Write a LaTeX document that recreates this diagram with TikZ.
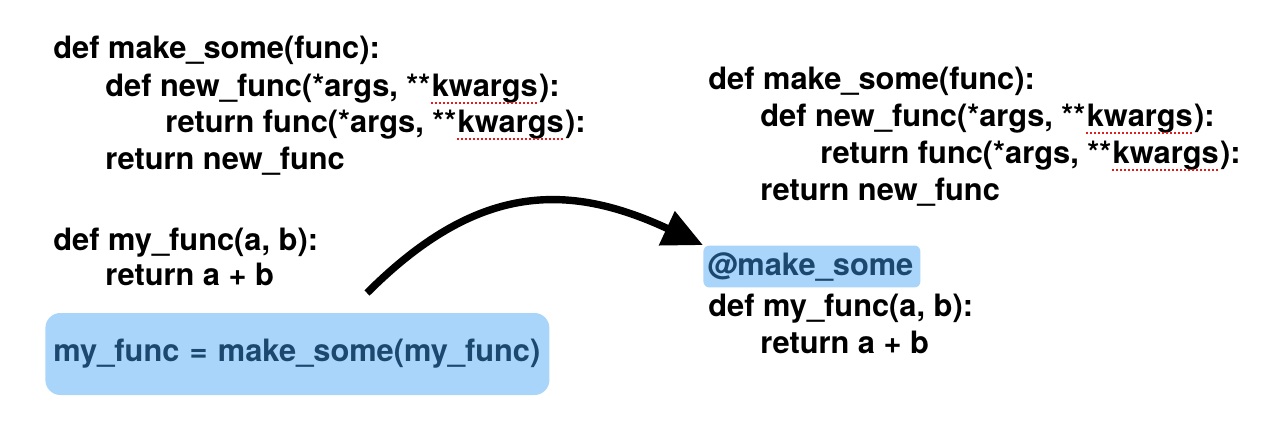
\documentclass[tikz,border=0pt]{standalone}
\usepackage{fontspec}
\setmainfont{TeX Gyre Heros}
\usetikzlibrary{arrows.meta,positioning}
\definecolor{hlfill}{RGB}{170,213,250}
\definecolor{hltext}{RGB}{28,72,112}
\definecolor{squig}{RGB}{225,30,30}
% spell-check style underline
\newcommand\kw[1]{\tikz[baseline=(k.base)]{\node[inner sep=0pt](k){#1};\draw[squig,line width=1pt,dash pattern=on 1pt off 1pt]([yshift=-3.5pt]k.base west)--([yshift=-3.5pt]k.base east);}}
\tikzset{
  codeline/.style={anchor=base west, inner sep=0pt, font=\fontsize{15.4}{18}\selectfont\bfseries},
  hlbox/.style={fill=hlfill, text=hltext, anchor=west, align=left, font=\fontsize{15.4}{18}\selectfont\bfseries},
  flow/.style={line width=3.7pt, -{Triangle[length=20pt,width=18pt]}}
}
\begin{document}
\begin{tikzpicture}[x=0.5pt,y=-0.5pt]
	\useasboundingbox (0,0) rectangle (1280,445);
	% left: plain call
	\node[codeline] (lmake) at (53,58) {def make\_some(func):};
	\node[codeline] (lnew) at (105,96) {def new\_func(*args, **\kw{kwargs}):};
	\node[codeline] (lret) at (165,132) {return func(*args, **\kw{kwargs}):};
	\node[codeline] (lretnew) at (105,169) {return new\_func};
	\node[codeline] (lmy) at (53,250) {def my\_func(a, b):};
	\node[codeline] (lsum) at (105,285) {return a + b};
	\node[hlbox, rounded corners=7.5pt, inner xsep=4pt, text width=244pt, minimum height=41pt] (call) at (45,354) {my\_func = make\_some(my\_func)};
	% right: decorator
	\node[codeline] (rmake) at (708,89) {def make\_some(func):};
	\node[codeline] (rnew) at (760,126) {def new\_func(*args, **\kw{kwargs}):};
	\node[codeline] (rret) at (820,163) {return func(*args, **\kw{kwargs}):};
	\node[codeline] (rretnew) at (760,200) {return new\_func};
	\node[hlbox, rounded corners=3pt, inner xsep=2pt, text width=104.5pt, minimum height=20.5pt] (deco) at (703,266.5) {@make\_some};
	\node[codeline] (rmy) at (708,316) {def my\_func(a, b):};
	\node[codeline] (rsum) at (760,353) {return a + b};
	\coordinate (from) at (367,293);
	\draw[flow] (from) to[out=45,in=155,looseness=1.15] (deco.north west);
\end{tikzpicture}
\end{document}
